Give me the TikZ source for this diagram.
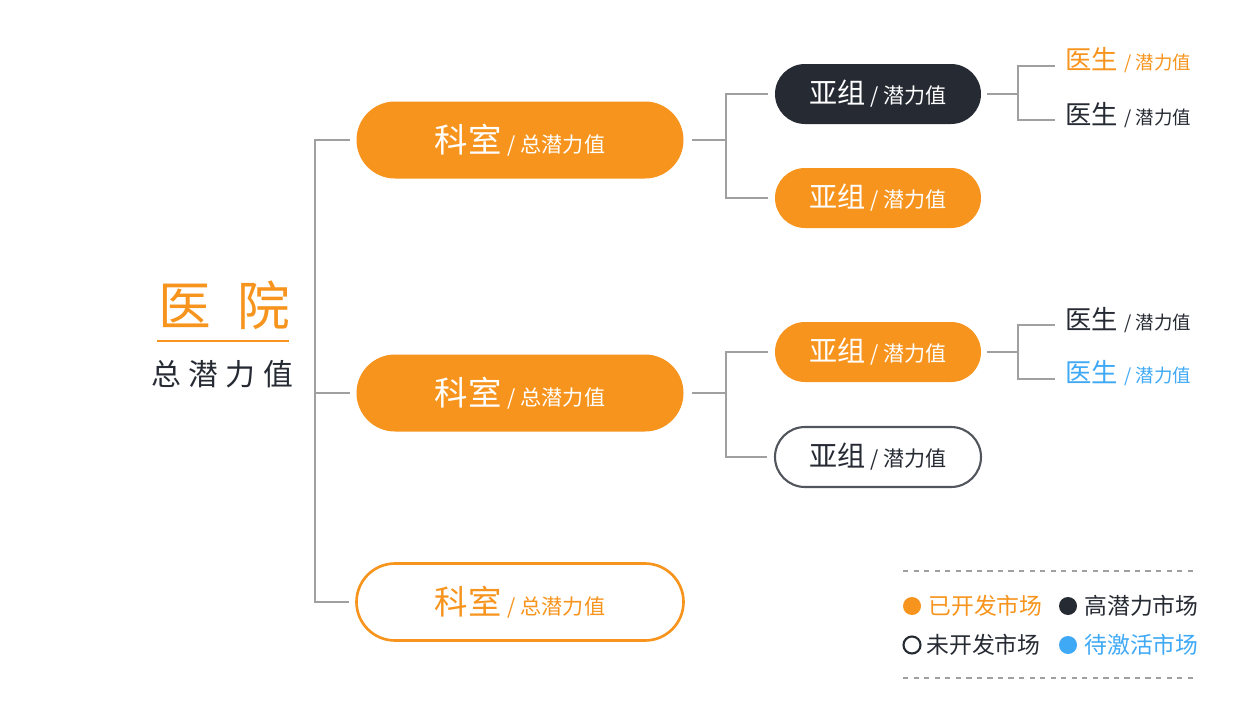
\documentclass[tikz,border=0pt]{standalone}
\usepackage{fontspec}
\setmainfont{Noto Sans CJK SC}
\usetikzlibrary{positioning}
\definecolor{hosp}{HTML}{F7941D}
\definecolor{dark}{HTML}{262A33}
\definecolor{blu}{HTML}{3FA9F5}
\definecolor{wire}{HTML}{A0A0A0}
\tikzset{
	dept/.style={rounded corners=38.5*0.02cm, minimum width=327*0.02cm, minimum height=77*0.02cm, inner sep=0pt},
	grp/.style={rounded corners=30*0.02cm, minimum width=206*0.02cm, minimum height=60*0.02cm, inner sep=0pt},
	link/.style={draw=wire, line width=1.3pt},
	doc/.style={anchor=west, inner sep=0pt}
}
\newcommand{\ks}{{\fontsize{19}{19}\selectfont 科室}\hspace{0.35em}{\fontsize{12}{12}\selectfont / 总潜力值}}
\newcommand{\yz}{{\fontsize{16}{16}\selectfont 亚组}\hspace{0.3em}{\fontsize{12}{12}\selectfont / 潜力值}}
\newcommand{\ys}{{\fontsize{15}{15}\selectfont 医生}\hspace{0.35em}{\fontsize{10.5}{10.5}\selectfont / 潜力值}}
\begin{document}
\begin{tikzpicture}[x=0.02cm, y=-0.02cm]
	\useasboundingbox (0,0) rectangle (1248,720);
	% root
	\node (yy) at (224,305) {\color{hosp}\fontsize{30}{30}\selectfont 医\hspace{0.5em}院};
	\draw [hosp, line width=1.5pt] (157,341) -- (289,341);
	\node (zq) at (222,374) {\color{dark}\fontsize{17}{17}\selectfont 总\hspace{0.25em}潜\hspace{0.25em}力\hspace{0.25em}值};
	% departments
	\node [dept, fill=hosp, text=white] (ks1) at (520,140) {\ks};
	\node [dept, fill=hosp, text=white] (ks2) at (520,393) {\ks};
	\node [dept, draw=hosp, line width=1.5pt, fill=white, text=hosp] (ks3) at (520,602) {\ks};
	\draw [link] ([xshift=-6*0.02cm]ks1.west) -- (315,140) -- (315,602) -- ([xshift=-6*0.02cm]ks3.west);
	\draw [link] (315,393) -- ([xshift=-6*0.02cm]ks2.west);
	% groups
	\node [grp, fill=dark, text=white] (yz1) at (878,94) {\yz};
	\node [grp, fill=hosp, text=white] (yz2) at (878,198) {\yz};
	\node [grp, fill=hosp, text=white] (yz3) at (878,352) {\yz};
	\node [grp, draw=dark!80, line width=1.2pt, fill=white, text=dark] (yz4) at (878,457) {\yz};
	\draw [link] ([xshift=8*0.02cm]ks1.east) -- (726,140);
	\draw [link] ([xshift=-7*0.02cm]yz1.west) -| (726,198) -- ([xshift=-7*0.02cm]yz2.west);
	\draw [link] ([xshift=8*0.02cm]ks2.east) -- (726,393);
	\draw [link] ([xshift=-7*0.02cm]yz3.west) -| (726,457) -- ([xshift=-7*0.02cm]yz4.west);
	% doctors
	\node [doc, text=hosp] (ys1) at (1065,60) {\ys};
	\node [doc, text=dark] (ys2) at (1065,115) {\ys};
	\node [doc, text=dark] (ys3) at (1065,320) {\ys};
	\node [doc, text=blu] (ys4) at (1065,373) {\ys};
	\draw [link] ([xshift=6*0.02cm]yz1.east) -- (1018,94);
	\draw [link] (1055,66) -| (1018,120) -- (1055,120);
	\draw [link] ([xshift=6*0.02cm]yz3.east) -- (1018,352);
	\draw [link] (1055,325) -| (1018,379) -- (1055,379);
	% legend
	\draw [wire, dashed, line width=1pt] (903,571) -- (1193,571);
	\draw [wire, dashed, line width=1pt] (903,678) -- (1193,678);
	\fill [hosp] (912,606) circle (9);
	\node [doc, text=hosp, font=\fontsize{13}{13}\selectfont] (lg1) at (928,606) {已开发市场};
	\fill [dark] (1068,606) circle (9);
	\node [doc, text=dark, font=\fontsize{13}{13}\selectfont] (lg2) at (1084,606) {高潜力市场};
	\draw [dark, line width=1.2pt] (912,645) circle (8.5);
	\node [doc, text=dark, font=\fontsize{13}{13}\selectfont] (lg3) at (926,645) {未开发市场};
	\fill [blu] (1068,645) circle (9);
	\node [doc, text=blu, font=\fontsize{13}{13}\selectfont] (lg4) at (1084,645) {待激活市场};
\end{tikzpicture}
\end{document}
